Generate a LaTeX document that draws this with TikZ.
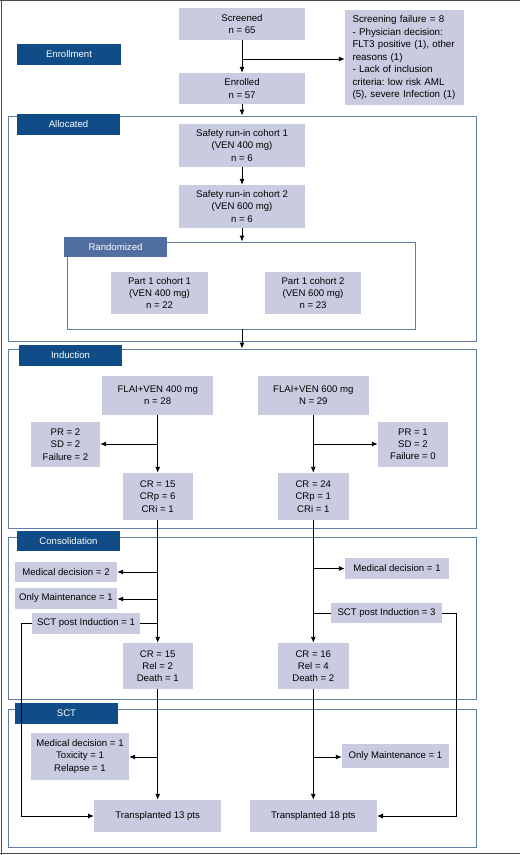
\documentclass[tikz,border=0pt]{standalone}
\usepackage{fontspec}
\setmainfont{Liberation Sans}
\usetikzlibrary{arrows.meta}
\frenchspacing
\definecolor{boxfill}{RGB}{201,204,225}
\definecolor{labdark}{RGB}{16,76,133}
\definecolor{lablight}{RGB}{80,110,160}
\definecolor{framecol}{RGB}{95,125,165}
\definecolor{bordercol}{RGB}{75,75,75}
\tikzset{
  box/.style={fill=boxfill, align=center, inner sep=0pt, font=\fontsize{9.6}{12.2}\selectfont},
  lab/.style={fill=labdark, text=white, inner sep=0pt, font=\fontsize{9.6}{12}\selectfont},
  lablt/.style={fill=lablight, text=white, inner sep=0pt, font=\fontsize{9.6}{12}\selectfont},
  frame/.style={draw=framecol, line width=0.9pt, inner sep=0pt},
  arr/.style={line width=0.9pt, -{Latex[length=6pt,width=5pt]}},
  ln/.style={line width=0.9pt},
}
\begin{document}
\frenchspacing
\begin{tikzpicture}[x=1pt,y=-1pt]
\useasboundingbox (0,0) rectangle (520,855);
% outer border
\draw[bordercol, line width=1pt] (0,0.6) -- (520,0.6);
\draw[bordercol, line width=1pt] (1,0) -- (1,855);
\draw[bordercol, line width=1pt] (0,853.5) -- (520,853.5);
% frames
\node[frame, minimum width=468pt, minimum height=225pt] (allocF) at (242,228.5) {};
\node[frame, minimum width=348pt, minimum height=87pt] (randF) at (241,285.5) {};
\node[frame, minimum width=468pt, minimum height=179pt] (indF) at (242,438.5) {};
\node[frame, minimum width=468pt, minimum height=162pt] (consF) at (242,618) {};
\node[frame, minimum width=468pt, minimum height=138pt] (sctF) at (242,778) {};
% labels
\node[lab, minimum width=104pt, minimum height=21pt] (enrL) at (69,54.5) {Enrollment};
\node[lab, minimum width=103pt, minimum height=21pt] (allL) at (68.5,124.5) {Allocated};
\node[lablt, minimum width=103pt, minimum height=20pt] (ranL) at (115.5,247) {Randomized};
\node[lab, minimum width=103pt, minimum height=21pt] (indL) at (70.5,355.5) {Induction};
\node[lab, minimum width=103pt, minimum height=20pt] (conL) at (68.5,541) {Consolidation};
\node[lab, minimum width=103pt, minimum height=21pt] (sctL) at (66.5,713.5) {SCT};
% boxes
\node[box, minimum width=126pt, minimum height=32pt] (scr) at (242,24) {Screened\\n = 65};
\node[box, minimum width=126pt, minimum height=31pt] (enr) at (242,88.5) {Enrolled\\n = 57};
\node[box, minimum height=95pt, text width=104pt, inner xsep=7.5pt, align=left,
      font=\fontsize{9.8}{12.5}\selectfont] (fail) at (404.5,57.5)
  {Screening failure = 8\\- Physician decision:\\FLT3 positive (1), other\\reasons (1)\\- Lack of inclusion\\criteria: low risk AML\\(5), severe Infection (1)};
\node[box, minimum width=126pt, minimum height=43pt] (s1) at (242,145.5) {Safety run-in cohort 1\\(VEN 400 mg)\\n = 6};
\node[box, minimum width=126pt, minimum height=43pt] (s2) at (242,206.5) {Safety run-in cohort 2\\(VEN 600 mg)\\n = 6};
\node[box, minimum width=97pt, minimum height=42pt] (p1) at (159.5,293) {Part 1 cohort 1\\(VEN 400 mg)\\n = 22};
\node[box, minimum width=96pt, minimum height=42pt] (p2) at (313,293) {Part 1 cohort 2\\(VEN 600 mg)\\n = 23};
\node[box, minimum width=111pt, minimum height=39pt] (f4) at (157.7,395.5) {FLAI+VEN 400 mg\\n = 28};
\node[box, minimum width=111pt, minimum height=39pt] (f6) at (313.3,395.5) {FLAI+VEN 600 mg\\N = 29};
\node[box, minimum width=69pt, minimum height=45pt] (pr2) at (65.5,444.5) {PR = 2\\SD = 2\\Failure = 2};
\node[box, minimum width=70pt, minimum height=45pt] (pr1) at (413,444.5) {PR = 1\\SD = 2\\Failure = 0};
\node[box, minimum width=70pt, minimum height=47pt] (c15a) at (157.7,496.5) {CR = 15\\CRp = 6\\CRi = 1};
\node[box, minimum width=71pt, minimum height=47pt] (c24) at (313.3,496.5) {CR = 24\\CRp = 1\\CRi = 1};
\node[box, minimum width=102pt, minimum height=20pt] (md2) at (66,572) {Medical decision = 2};
\node[box, minimum width=102pt, minimum height=21pt] (om1) at (66,598.5) {Only Maintenance = 1};
\node[box, minimum width=108pt, minimum height=21pt] (sct1) at (86,623.5) {SCT post Induction = 1};
\node[box, minimum width=104pt, minimum height=21pt] (md1) at (397,568.5) {Medical decision = 1};
\node[box, minimum width=111pt, minimum height=20pt] (sct3) at (386.5,613) {SCT post Induction = 3};
\node[box, minimum width=70pt, minimum height=46pt] (c15b) at (157.7,666) {CR = 15\\Rel = 2\\Death = 1};
\node[box, minimum width=71pt, minimum height=46pt] (c16) at (313.3,666) {CR = 16\\Rel = 4\\Death = 2};
\node[box, minimum width=98pt, minimum height=47pt] (mtr) at (80,756.5) {Medical decision = 1\\Toxicity = 1\\Relapse = 1};
\node[box, minimum width=107pt, minimum height=24pt] (om2) at (395.5,756) {Only Maintenance = 1};
\node[box, minimum width=127pt, minimum height=32pt] (t13) at (157.7,816) {Transplanted 13 pts};
\node[box, minimum width=127pt, minimum height=32pt] (t18) at (313.3,816) {Transplanted 18 pts};
% coordinates
\coordinate (b1) at (242,59);
\coordinate (bL1) at (157.7,444);
\coordinate (bR1) at (313.3,444);
\coordinate (bL2) at (157.7,572);
\coordinate (bL3) at (157.7,599);
\coordinate (bL4) at (157.7,623.5);
\coordinate (bR2) at (313.3,568.5);
\coordinate (bR3) at (313.3,613);
\coordinate (bL5) at (157.7,757);
\coordinate (bR5) at (313.3,757);
\coordinate (cL) at (21,623.5);
\coordinate (cLd) at (21,816);
\coordinate (cR) at (456,613);
\coordinate (cRd) at (456,816);
% connectors
\draw[arr] (scr.south) -- (enr.north);
\draw[arr] (b1) -- (b1 -| fail.west);
\draw[arr] (enr.south) -- (allocF.north);
\draw[arr] (s1.south) -- (s2.north);
\draw[arr] (s2.south) -- (s2.south |- randF.north);
\draw[arr] (s2.south |- randF.south) -- (indF.north);
\draw[arr] (f4.south) -- (c15a.north);
\draw[arr] (bL1) -- (bL1 -| pr2.east);
\draw[arr] (f6.south) -- (c24.north);
\draw[arr] (bR1) -- (bR1 -| pr1.west);
\draw[arr] (c15a.south) -- (c15b.north);
\draw[arr] (bL2) -- (bL2 -| md2.east);
\draw[arr] (bL3) -- (bL3 -| om1.east);
\draw[ln] (bL4) -- (sct1.east);
\draw[arr] (sct1.west) -- (cL) -- (cLd) -- (t13.west);
\draw[arr] (c24.south) -- (c16.north);
\draw[arr] (bR2) -- (bR2 -| md1.west);
\draw[ln] (bR3) -- (sct3.west);
\draw[arr] (sct3.east) -- (cR) -- (cRd) -- (t18.east);
\draw[arr] (c15b.south) -- (t13.north);
\draw[arr] (bL5) -- (bL5 -| mtr.east);
\draw[arr] (c16.south) -- (t18.north);
\draw[arr] (bR5) -- (bR5 -| om2.west);
\end{tikzpicture}
\end{document}
